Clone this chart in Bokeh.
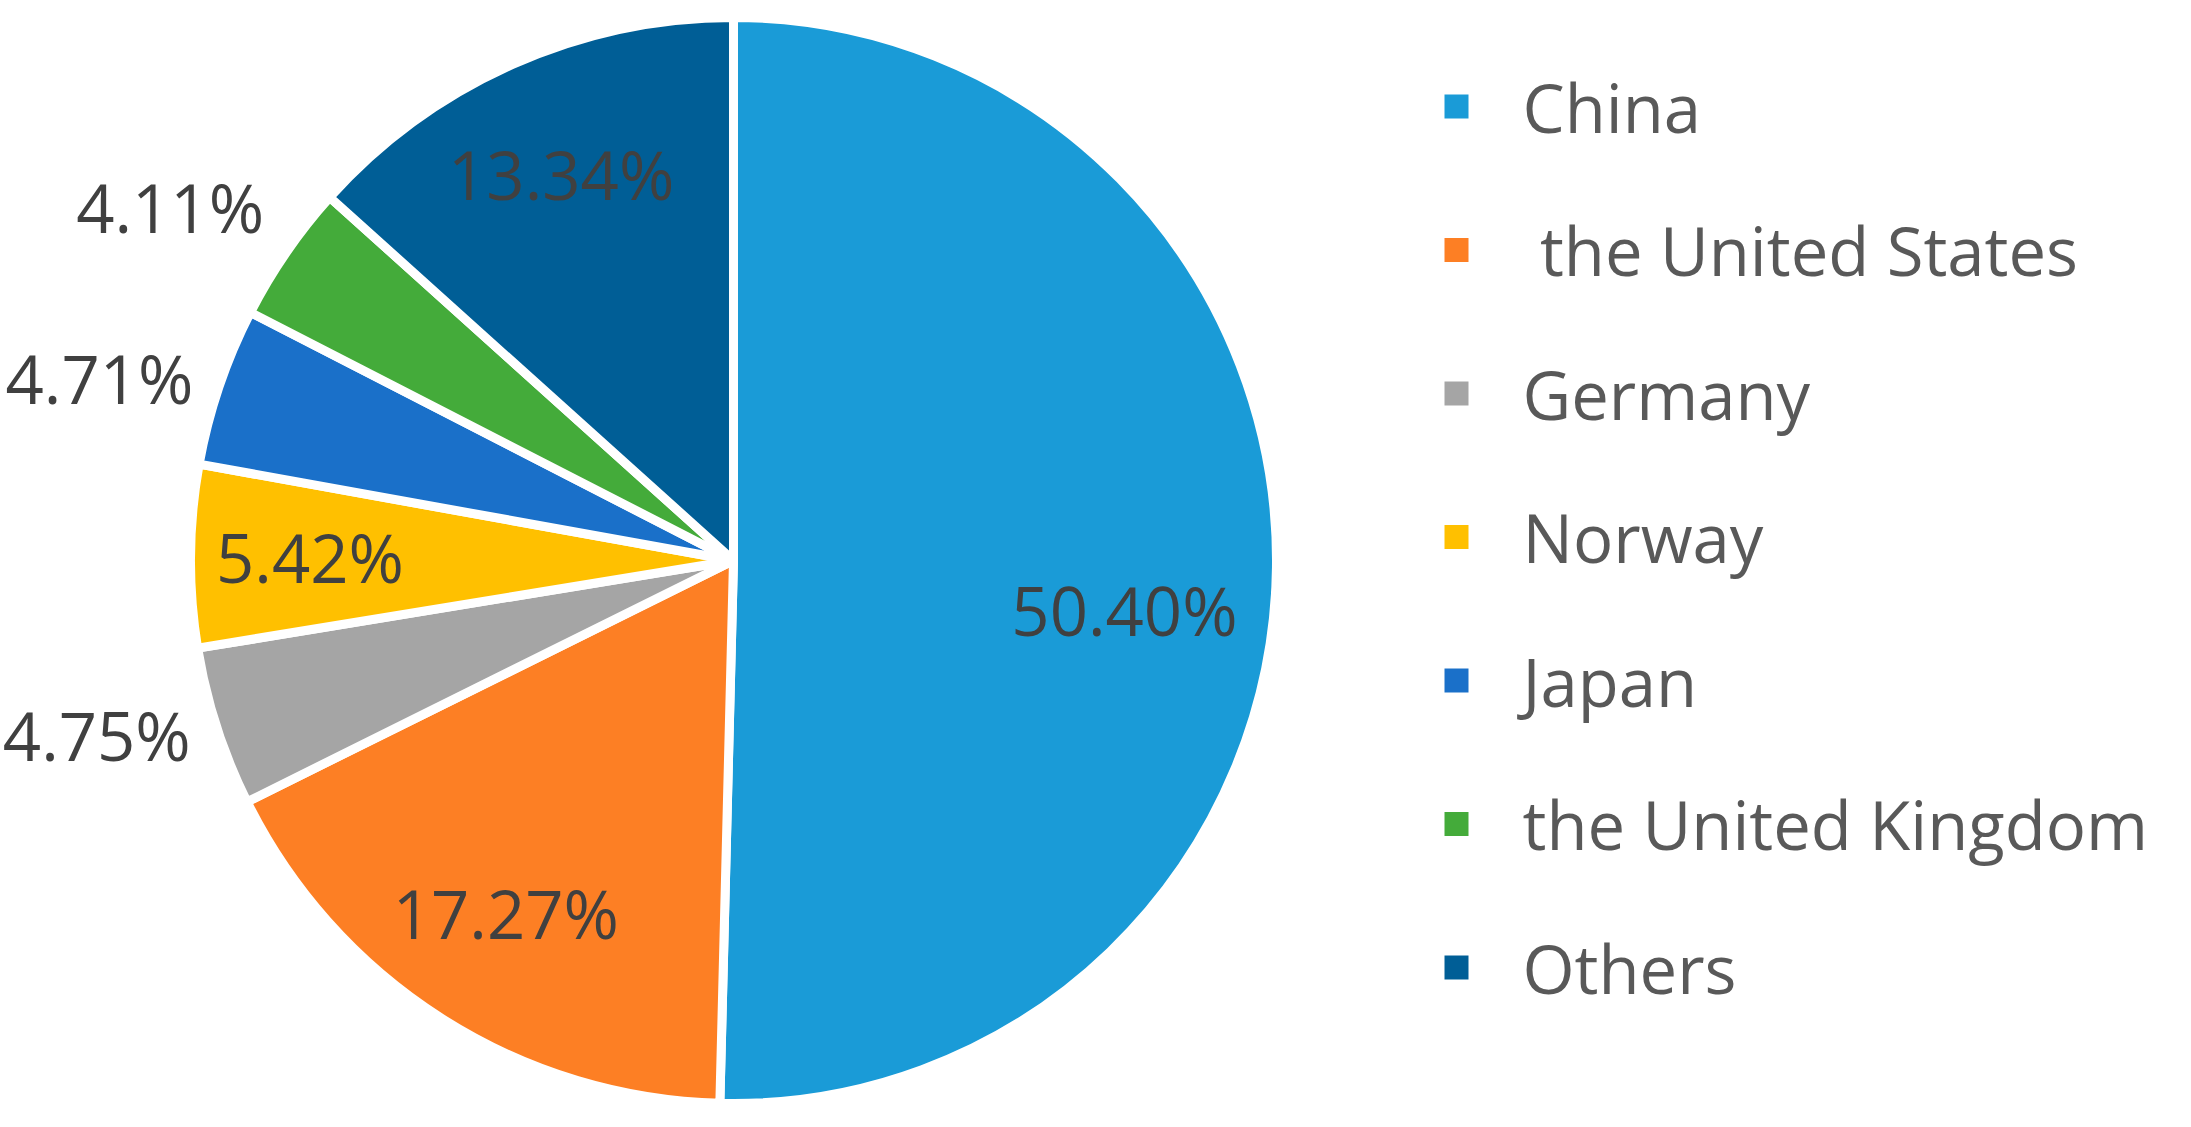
import math
from bokeh.plotting import figure
from bokeh.models import Range1d, ColumnDataSource
from bokeh.core.properties import value
from bokeh.embed import file_html
from bokeh.resources import INLINE

# ---- data ----
countries = ["China", "\u00a0the United States", "Germany", "Norway", "Japan", "the United Kingdom", "Others"]
shares = [50.40, 17.27, 4.75, 5.42, 4.71, 4.11, 13.34]
label_texts = ["50.40%", "17.27%", "4.75%", "5.42%", "4.71%", "4.11%", "13.34%"]
colors = ["#1A9BD7", "#FD7F24", "#A5A5A5", "#FFC000", "#1A70C9", "#44AB3A", "#005E96"]
label_inside = [True, True, False, True, False, False, True]

W, H = 2175, 1111
def X(x):  # full-image px -> figure coords
    return x
def Y(y):
    return H - y

p = figure(width=W, height=H, output_backend="svg", toolbar_location=None,
           x_range=Range1d(0, W), y_range=Range1d(0, H), min_border=0)
p.axis.visible = False
p.grid.visible = False
p.outline_line_color = None
p.background_fill_color = "white"
p.border_fill_color = "white"

cx, cy, R = X(733), Y(560), 543
total = sum(shares)
starts, ends, cum = [], [], 0.0
mids = []
for s in shares:
    a0 = cum / total
    cum += s
    a1 = cum / total
    starts.append(math.pi / 2 - 2 * math.pi * a1)
    ends.append(math.pi / 2 - 2 * math.pi * a0)
    mids.append(2 * math.pi * (a0 + a1) / 2)

src = ColumnDataSource(dict(start=starts, end=ends, color=colors))
p.wedge(x=cx, y=cy, radius=R, start_angle="start", end_angle="end", direction="anticlock",
        fill_color="color", line_color="white", line_width=9, source=src)

# data labels
lx, ly, lalign = [], [], []
nudge_y = [-45, 5, 0, 0, 0, 30, 0]
for i, th in enumerate(mids):
    if label_inside[i]:
        r = 0.72 * R if i == 0 else 0.78 * R
        lx.append(cx + r * math.sin(th))
        ly.append(cy + r * math.cos(th) + nudge_y[i])
        lalign.append("center")
    else:
        r = 1.05 * R
        lx.append(cx + r * math.sin(th))
        ly.append(cy + r * math.cos(th) + nudge_y[i])
        lalign.append("right")
lsrc = ColumnDataSource(dict(x=lx, y=ly, t=label_texts, a=lalign))
p.text(x="x", y="y", text="t", text_align="a", text_baseline="middle", source=lsrc,
       text_font=value("Open Sans"), text_font_size="67px", text_color="#404040")

# legend
row_y = [Y(106 + i * 143.5) for i in range(len(countries))]
p.rect(x=[X(1456)] * len(countries), y=row_y, width=24, height=24, fill_color=colors, line_color=None)
p.text(x=[X(1522)] * len(countries), y=row_y, text=countries, text_baseline="middle", text_align="left",
       text_font=value("Open Sans"), text_font_size="67px", text_color="#595959")

open("out.html", "w").write(file_html(p, INLINE))
